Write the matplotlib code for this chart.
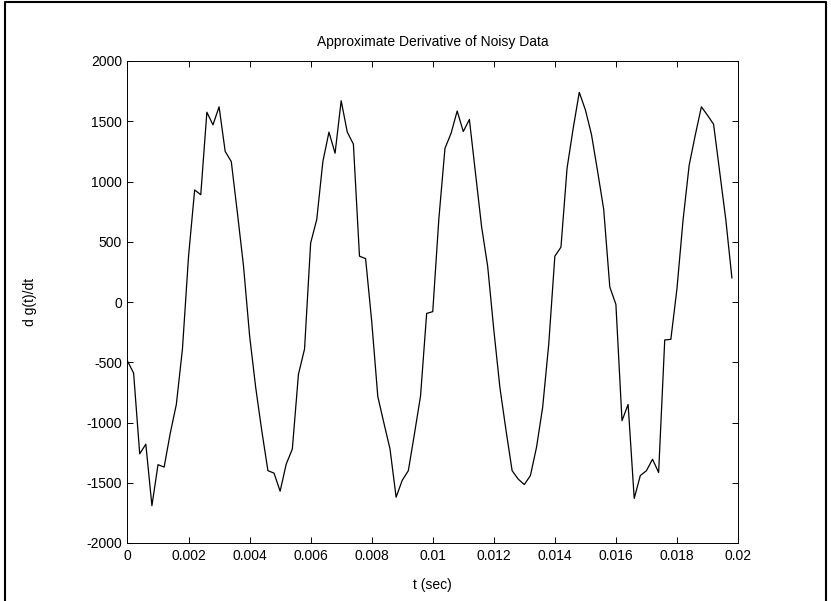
import numpy as np
import matplotlib
matplotlib.use("Agg")
import matplotlib.pyplot as plt
from matplotlib.lines import Line2D

plt.rcParams['font.family'] = ['Liberation Sans', 'DejaVu Sans']

# sample times (s) and the approximate derivative
t = np.linspace(0, 0.0198, 100)
dg = [-490, -590, -1260, -1180, -1690, -1350, -1370, -1090, -850, -390,
      380, 930, 890, 1575, 1470, 1620, 1250, 1165, 740, 300,
      -280, -710, -1070, -1400, -1420, -1570, -1345, -1220, -600, -390,
      490, 685, 1165, 1410, 1235, 1670, 1410, 1310, 380, 360,
      -160, -785, -1005, -1220, -1620, -1480, -1400, -1095, -780, -95,
      -80, 690, 1275, 1400, 1585, 1415, 1515, 1070, 625, 295,
      -230, -710, -1065, -1400, -1470, -1515, -1440, -1205, -875, -350,
      380, 455, 1110, 1440, 1740, 1595, 1390, 1085, 770, 125,
      -20, -985, -850, -1630, -1440, -1400, -1305, -1415, -315, -310,
      110, 680, 1135, 1385, 1620, 1550, 1475, 1080, 685, 200]

xticks = [0, 0.002, 0.004, 0.006, 0.008, 0.01, 0.012, 0.014, 0.016, 0.018, 0.02]
xticklabels = ["0", "0.002", "0.004", "0.006", "0.008", "0.01", "0.012",
               "0.014", "0.016", "0.018", "0.02"]
yticks = [-2000, -1500, -1000, -500, 0, 500, 1000, 1500, 2000]

W, H = 831, 601
fig = plt.figure(figsize=(W / 100, H / 100), dpi=100)
ax = fig.add_axes([127.5 / W, 1 - 543 / H, (738 - 127.5) / W, (543 - 61) / H])

ax.plot(t, dg, color='k', linewidth=0.9)

ax.set_xlim(0, 0.02)
ax.set_ylim(-2000, 2000)
ax.set_xticks(xticks)
ax.set_xticklabels(xticklabels)
ax.set_yticks(yticks)
ax.set_yticklabels([str(v) for v in yticks])
ax.tick_params(direction='in', length=4.4, width=0.7, top=True, right=True,
               labelsize=10, pad=4)
for s in ax.spines.values():
    s.set_linewidth(0.7)

ax.set_title("Approximate Derivative of Noisy Data", fontsize=10, pad=11)
ax.set_xlabel("t (sec)", fontsize=10)
ax.set_ylabel("d g(t)/dt", fontsize=10)
ax.xaxis.set_label_coords(0.5, -0.072)
ax.yaxis.set_label_coords(-0.148, 0.5)

# window frame (left, top, right edges)
fl, ft, fr = 4.5 / W, 1 - 1.5 / H, 825.5 / W
fig.add_artist(Line2D([fl, fl, fr, fr], [0, ft, ft, 0], transform=fig.transFigure,
                      color='k', linewidth=1.5))

fig.savefig("out.png", dpi=100)
